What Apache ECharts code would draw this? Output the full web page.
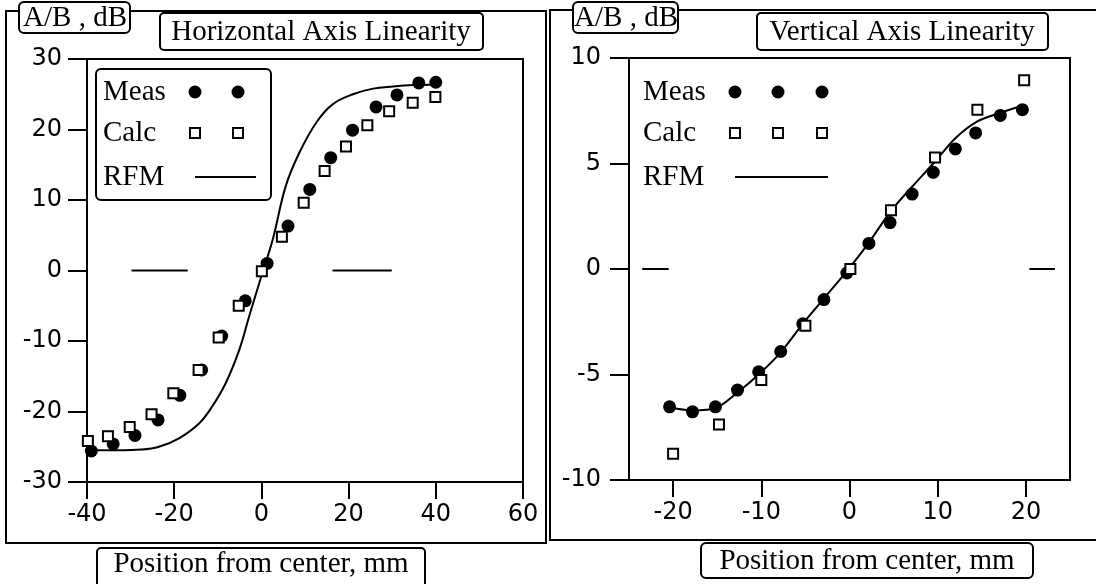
<!DOCTYPE html>
<html>
<head>
<meta charset="utf-8">
<script src="https://cdn.jsdelivr.net/npm/echarts@6/dist/echarts.min.js"></script>
<style>
html,body{margin:0;padding:0;background:#fff;}
#c{width:1096px;height:584px;}
</style>
</head>
<body>
<div id="c"></div>
<script>
// ---------- Data ----------
// Horizontal axis linearity (left panel)
var H_MEAS = [[40,26.7],[36.1,26.6],[31.1,24.9],[26.3,23.2],[20.9,19.9],[15.9,16.0],[11.1,11.5],[6.1,6.3],[1.3,1.0],[-3.7,-4.3],[-9.1,-9.3],[-13.7,-14.1],[-18.7,-17.7],[-23.7,-21.2],[-29.0,-23.4],[-34.0,-24.6],[-39.0,-25.6]];
var H_CALC = [[39.9,24.6],[34.7,23.8],[29.3,22.6],[24.3,20.6],[19.4,17.6],[14.5,14.1],[9.7,9.6],[4.7,4.8],[0.1,-0.1],[-5.2,-5.0],[-9.8,-9.5],[-14.4,-14.1],[-20.2,-17.4],[-25.2,-20.4],[-30.2,-22.2],[-35.2,-23.5],[-39.8,-24.2]];
var H_RFM = [[-40.4,-25.5],[-33,-25.5],[-27.4,-25.4],[-23.5,-25.0],[-18.9,-23.8],[-14.3,-21.7],[-11.3,-19.3],[-8.2,-16.0],[-5.1,-11.3],[-2.8,-6.5],[-0.5,-1.8],[0.3,-0.2],[2.6,4.4],[5.6,12.0],[8.7,16.7],[12.6,21.0],[16.4,23.6],[21.0,25.0],[25.6,25.8],[30.2,26.1],[35,26.3],[40.2,26.4]];
var H_DASHES = [[-29.8,-16.9],[16.3,29.9]];
var H_XTICKS = [-40,-20,0,20,40,60];
var H_YTICKS = [-30,-20,-10,0,10,20,30];

// Vertical axis linearity (right panel)
var V_MEAS = [[19.6,7.55],[17.1,7.28],[14.3,6.45],[12.0,5.69],[9.5,4.58],[7.1,3.55],[4.6,2.2],[2.2,1.21],[-0.3,-0.19],[-2.9,-1.45],[-5.3,-2.6],[-7.8,-3.91],[-10.3,-4.87],[-12.7,-5.74],[-15.2,-6.53],[-17.8,-6.77],[-20.4,-6.53]];
var V_CALC = [[19.8,8.94],[14.5,7.55],[9.7,5.29],[4.7,2.79],[0.1,0.0],[-5.0,-2.69],[-10.0,-5.26],[-14.8,-7.37],[-20.0,-8.76]];
var V_RFM = [[-20.4,-6.55],[-17.8,-6.7],[-15.2,-6.6],[-12.7,-5.85],[-10.3,-5.0],[-7.8,-3.95],[-5.3,-2.6],[-2.9,-1.4],[-0.3,-0.1],[2.2,1.25],[4.6,2.7],[7.1,3.9],[9.5,5.0],[12.0,6.2],[14.5,7.0],[17.1,7.4],[19.6,7.75]];
var V_DASHES = [[-23.5,-20.5],[20.4,23.3]];
var V_XTICKS = [-20,-10,0,10,20];
var V_YTICKS = [-10,-5,0,5,10];

var TITLES = ['Horizontal Axis Linearity','Vertical Axis Linearity'];
var YNAME = 'A/B , dB';
var XNAME = 'Position from center, mm';
var LEGEND = ['Meas','Calc','RFM'];

// ---------- Chart ----------
var SERIF_FONT = '29px "Liberation Serif"';
var SANS = 'DejaVu Sans';
var chart = echarts.init(document.getElementById('c'), null, {renderer:'canvas'});

function xAxisDef(gi, min, max, ticks, margin){
  return {
    type:'value', gridIndex:gi, min:min, max:max,
    axisLine:{show:true, onZero:false, lineStyle:{color:'#000', width:2}},
    axisTick:{show:true, inside:false, length:17, lineStyle:{color:'#000', width:2}, customValues:ticks},
    axisLabel:{show:true, margin:margin, color:'#000', fontFamily:SANS, fontSize:24, customValues:ticks},
    splitLine:{show:false}
  };
}
function yAxisDef(gi, min, max, ticks, margin){
  return {
    type:'value', gridIndex:gi, min:min, max:max,
    axisLine:{show:true, onZero:false, lineStyle:{color:'#000', width:2}},
    axisTick:{show:true, inside:false, length:19, lineStyle:{color:'#000', width:2}, customValues:ticks},
    axisLabel:{show:true, margin:margin, color:'#000', fontFamily:SANS, fontSize:24, customValues:ticks},
    splitLine:{show:false}
  };
}

function scatterMeas(gi, data){
  return {type:'scatter', xAxisIndex:gi, yAxisIndex:gi, data:data, symbol:'circle', symbolSize:13,
    itemStyle:{color:'#000', opacity:1}, z:3, silent:true};
}
function scatterCalc(gi, data){
  return {type:'scatter', xAxisIndex:gi, yAxisIndex:gi, data:data, symbol:'rect', symbolSize:10,
    itemStyle:{color:'#fff', borderColor:'#000', borderWidth:2, opacity:1}, z:4, silent:true};
}
function rfmLine(gi, data, smooth){
  return {type:'line', xAxisIndex:gi, yAxisIndex:gi, data:data, showSymbol:false, symbol:'none', smooth:smooth,
    lineStyle:{color:'#000', width:2}, z:2, silent:true};
}
function dashSeries(gi, segs){
  return segs.map(function(s){
    return {type:'line', xAxisIndex:gi, yAxisIndex:gi, data:[[s[0],0],[s[1],0]], showSymbol:false, symbol:'none',
      lineStyle:{color:'#000', width:2}, z:2, silent:true};
  });
}

function boxText(x, y, w, h, r, text, cx, cy){
  return {
    type:'group', z:20,
    children:[
      {type:'rect', shape:{x:x, y:y, width:w, height:h, r:r}, style:{fill:'#fff', stroke:'#000', lineWidth:2}, z:20},
      {type:'text', x:cx, y:cy, style:{text:text, font:SERIF_FONT, fill:'#000', align:'center', verticalAlign:'middle'}, z:21}
    ]
  };
}

function legendGroup(tx, markerXs, lineEnd, ys, withBox){
  var ch = [];
  if (withBox) {
    ch.push({type:'rect', shape:{x:96, y:69, width:175, height:131, r:5}, style:{fill:'#fff', stroke:'#000', lineWidth:2}, z:10});
  }
  for (var i=0;i<3;i++){
    ch.push({type:'text', x:tx, y:ys[i], style:{text:LEGEND[i], font:SERIF_FONT, fill:'#000', align:'left', verticalAlign:'middle'}, z:11});
  }
  markerXs.forEach(function(mx){
    ch.push({type:'circle', shape:{cx:mx, cy:ys[0], r:6.5}, style:{fill:'#000'}, z:11});
    ch.push({type:'rect', shape:{x:mx-5, y:ys[1]-5, width:10, height:10}, style:{fill:'#fff', stroke:'#000', lineWidth:2}, z:11});
  });
  ch.push({type:'line', shape:{x1:markerXs[0], y1:ys[2], x2:lineEnd, y2:ys[2]}, style:{stroke:'#000', lineWidth:2}, z:11});
  return {type:'group', z:10, children:ch};
}

var option = {
  backgroundColor:'#fff',
  animation:false,
  grid:[
    {left:87, top:59, width:436, height:423, show:true, borderColor:'#000', borderWidth:2, backgroundColor:'transparent'},
    {left:629, top:58, width:441, height:422, show:true, borderColor:'#000', borderWidth:2, backgroundColor:'transparent'}
  ],
  xAxis:[ xAxisDef(0,-40,60,H_XTICKS,21), xAxisDef(1,-25,25,V_XTICKS,21) ],
  yAxis:[ yAxisDef(0,-30,30,H_YTICKS,25), yAxisDef(1,-10,10,V_YTICKS,28) ],
  series:[].concat(
    [rfmLine(0,H_RFM,0.4)],
    dashSeries(0,H_DASHES),
    [scatterMeas(0,H_MEAS), scatterCalc(0,H_CALC)],
    [rfmLine(1,V_RFM,0.3)],
    dashSeries(1,V_DASHES),
    [scatterMeas(1,V_MEAS), scatterCalc(1,V_CALC)]
  ),
  graphic:[
    {type:'rect', shape:{x:6, y:11, width:540, height:532}, style:{fill:'none', stroke:'#000', lineWidth:2}, z:1, silent:true},
    {type:'rect', shape:{x:550, y:10, width:560, height:530}, style:{fill:'none', stroke:'#000', lineWidth:2}, z:1, silent:true},
    boxText(19, 2, 111, 31, 5, YNAME, 75, 18),
    boxText(160, 13, 323, 37, 4, TITLES[0], 321, 32),
    boxText(573, 2, 105, 31, 5, YNAME, 626, 18),
    boxText(757, 13, 291, 37, 4, TITLES[1], 902, 32),
    boxText(97, 548, 328, 50, 4, XNAME, 261, 564),
    boxText(701, 543, 332, 35, 5, XNAME, 867, 561),
    legendGroup(103, [195,238], 256, [92,133,177], true),
    legendGroup(643, [735,778,822], 828, [92,133,177], false)
  ]
};
chart.setOption(option);
</script>
</body>
</html>
